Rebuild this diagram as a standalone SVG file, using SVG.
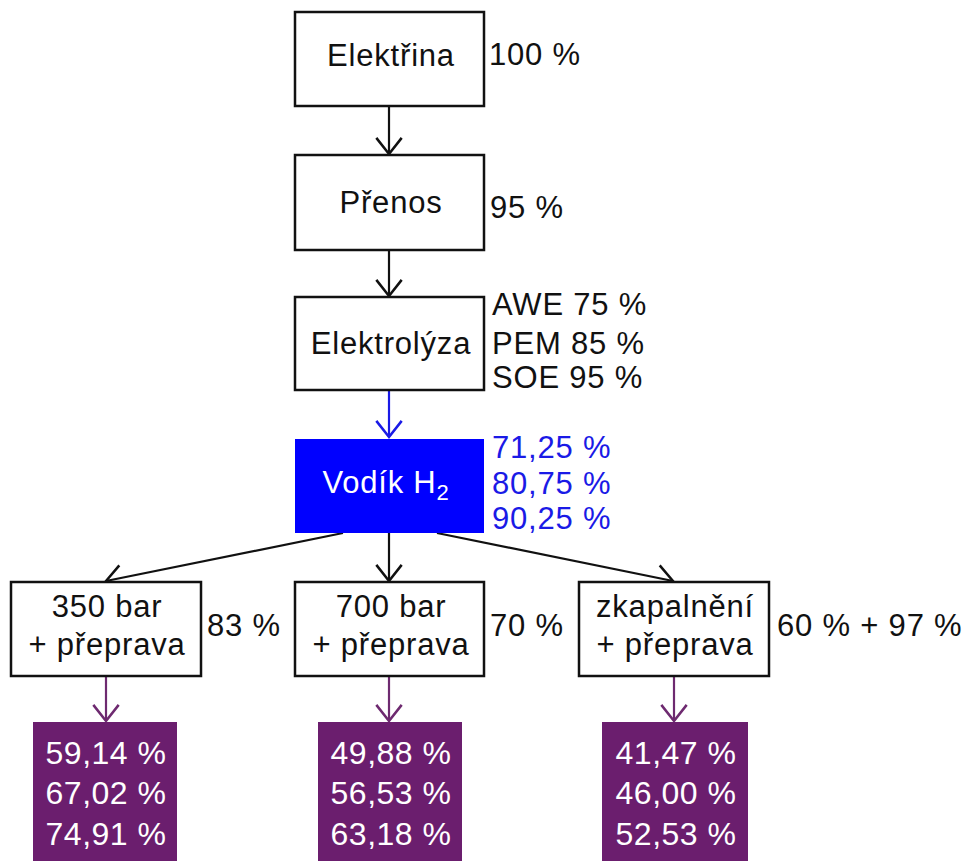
<svg xmlns="http://www.w3.org/2000/svg" width="966" height="861" viewBox="0 0 966 861">
<style>
text{font-family:"Liberation Sans",Arial,sans-serif;font-size:31px;letter-spacing:0.8px;fill:#111}
.box{fill:#fff;stroke:#111;stroke-width:2.5}
.c{text-anchor:middle}
.blue{fill:#1a1ae6}
.w{fill:#fff}
.pb{fill:#6b1e6e}
.ln{fill:none;stroke-width:2.2}
.k{stroke:#111}
.b{stroke:#1a1ae6}
.p{stroke:#6e2a70}
.big{font-size:32px;letter-spacing:0.5px}
</style>
<defs>
<marker id="ak" markerUnits="userSpaceOnUse" markerWidth="30" markerHeight="30" viewBox="-16 -13 18 26" refX="0" refY="0" orient="auto"><path d="M-14,-11 L0,0 L-14,11" fill="none" stroke="#111" stroke-width="2.2"/></marker>
<marker id="ab" markerUnits="userSpaceOnUse" markerWidth="30" markerHeight="30" viewBox="-16 -13 18 26" refX="0" refY="0" orient="auto"><path d="M-14,-11 L0,0 L-14,11" fill="none" stroke="#1a1ae6" stroke-width="2.2"/></marker>
<marker id="ap" markerUnits="userSpaceOnUse" markerWidth="30" markerHeight="30" viewBox="-16 -13 18 26" refX="0" refY="0" orient="auto"><path d="M-14,-11 L0,0 L-14,11" fill="none" stroke="#6e2a70" stroke-width="2.2"/></marker>
</defs>
<g id="connectors">
<line class="ln k" x1="389" y1="106" x2="389" y2="154" marker-end="url(#ak)"/>
<line class="ln k" x1="389" y1="250" x2="389" y2="296" marker-end="url(#ak)"/>
<line class="ln b" x1="389" y1="390" x2="389" y2="437" marker-end="url(#ab)"/>
<line class="ln k" x1="343" y1="533" x2="106" y2="581" marker-end="url(#ak)"/>
<line class="ln k" x1="389" y1="533" x2="389" y2="581" marker-end="url(#ak)"/>
<line class="ln k" x1="437" y1="533" x2="673" y2="581" marker-end="url(#ak)"/>
<line class="ln p" x1="106" y1="676" x2="106" y2="721" marker-end="url(#ap)"/>
<line class="ln p" x1="389" y1="676" x2="389" y2="721" marker-end="url(#ap)"/>
<line class="ln p" x1="674" y1="676" x2="674" y2="721" marker-end="url(#ap)"/>
</g>
<g id="elektrina">
<rect class="box" x="295" y="12" width="189" height="94"/>
<text class="c" x="391" y="66">Elektřina</text>
<text x="489" y="65">100 %</text>
</g>
<g id="prenos">
<rect class="box" x="295" y="155" width="189" height="95"/>
<text class="c" x="391" y="213">Přenos</text>
<text x="490" y="218">95 %</text>
</g>
<g id="elektrolyza">
<rect class="box" x="295" y="297" width="189" height="93"/>
<text class="c" x="391" y="354">Elektrolýza</text>
<text x="492" y="315">AWE 75 %</text>
<text x="492" y="354">PEM 85 %</text>
<text x="492" y="388">SOE 95 %</text>
</g>
<g id="vodik">
<rect x="295" y="439" width="189" height="94" fill="#0000ff"/>
<text class="c w" x="386" y="493">Vodík H<tspan font-size="22" dy="7">2</tspan></text>
<text class="blue" x="492" y="458">71,25 %</text>
<text class="blue" x="492" y="494">80,75 %</text>
<text class="blue" x="492" y="529">90,25 %</text>
</g>
<g id="bar350">
<rect class="box" x="11" y="582" width="190" height="94"/>
<text class="c" x="107" y="617">350 bar</text>
<text class="c" x="107" y="655">+ přeprava</text>
<text x="207" y="636">83 %</text>
</g>
<g id="bar700">
<rect class="box" x="295" y="582" width="189" height="94"/>
<text class="c" x="391" y="617">700 bar</text>
<text class="c" x="391" y="655">+ přeprava</text>
<text x="490" y="636">70 %</text>
</g>
<g id="zkapalneni">
<rect class="box" x="579" y="582" width="190" height="94"/>
<text class="c" x="675" y="617">zkapalnění</text>
<text class="c" x="675" y="655">+ přeprava</text>
<text x="777" y="636">60 % + 97 %</text>
</g>
<g id="res350">
<rect class="pb" x="33" y="722" width="144" height="139"/>
<text class="c w big" x="106" y="764">59,14 %</text>
<text class="c w big" x="106" y="804">67,02 %</text>
<text class="c w big" x="106" y="845">74,91 %</text>
</g>
<g id="res700">
<rect class="pb" x="318" y="722" width="144" height="139"/>
<text class="c w big" x="391" y="764">49,88 %</text>
<text class="c w big" x="391" y="804">56,53 %</text>
<text class="c w big" x="391" y="845">63,18 %</text>
</g>
<g id="resliq">
<rect class="pb" x="602" y="722" width="146" height="139"/>
<text class="c w big" x="676" y="764">41,47 %</text>
<text class="c w big" x="676" y="804">46,00 %</text>
<text class="c w big" x="676" y="845">52,53 %</text>
</g>
</svg>
